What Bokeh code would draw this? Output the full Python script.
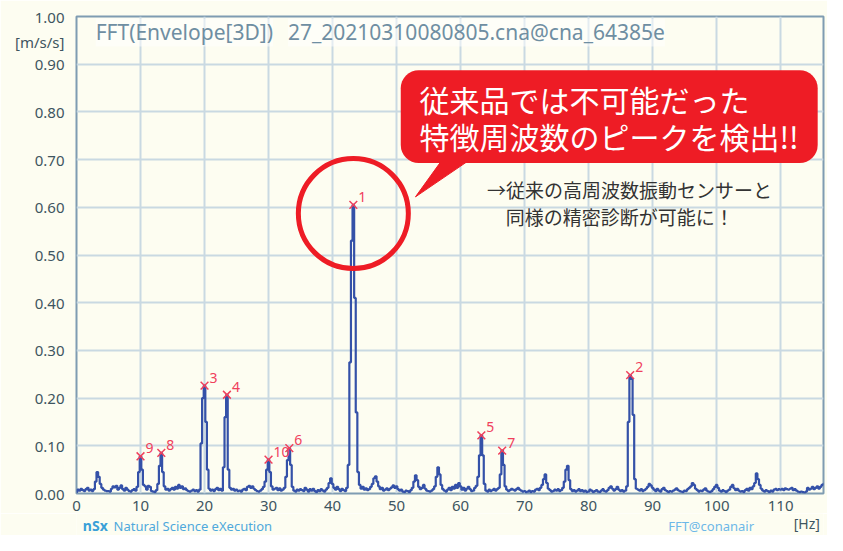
import numpy as np
from bokeh.plotting import figure
from bokeh.layouts import column
from bokeh.models import Range1d, Label, BoxAnnotation, FixedTicker
from bokeh.core.properties import value
from bokeh.embed import file_html
from bokeh.resources import INLINE

# ---------------- data ----------------
freq_step = 0.25  # Hz per bin
# spectrum amplitude in milli m/s/s, bins of 0.25 Hz starting at 0 Hz (5 Hz per row)
amp_milli = [
    3, 8, 6, 10, 7, 5, 9, 12, 6, 8, 5, 9, 25, 45, 35, 20, 12, 8, 6, 5,            # 0-5
    5, 4, 10, 15, 13, 16, 8, 12, 17, 9, 6, 12, 8, 5, 4, 7, 9, 6, 14, 45,          # 5-10
    78, 50, 18, 15, 8, 16, 14, 5, 4, 3, 7, 20, 58, 85, 45, 15, 8, 10, 6, 9,       # 10-15
    12, 8, 14, 10, 18, 12, 15, 9, 11, 7, 5, 4, 6, 8, 5, 7, 4, 8, 105, 200,        # 15-20
    226, 150, 50, 10, 6, 8, 5, 9, 12, 7, 10, 6, 55, 160, 207, 50, 12, 8, 10, 6,   # 20-25
    8, 5, 6, 4, 8, 10, 7, 14, 16, 12, 15, 10, 7, 5, 4, 6, 9, 14, 25, 50,          # 25-30
    71, 45, 15, 8, 10, 12, 7, 11, 6, 8, 12, 35, 70, 95, 60, 14, 6, 4, 8, 6,       # 30-35
    9, 7, 5, 12, 8, 4, 9, 6, 10, 5, 3, 7, 5, 9, 6, 4, 8, 12, 22, 32,              # 35-40
    20, 12, 8, 14, 9, 5, 10, 7, 5, 12, 60, 275, 530, 605, 410, 170, 45, 18, 10, 14,  # 40-45
    8, 11, 7, 9, 14, 20, 32, 36, 25, 15, 9, 12, 6, 8, 11, 7, 10, 13, 17, 12,      # 45-50
    15, 9, 6, 8, 4, 3, 6, 5, 3, 7, 12, 25, 38, 28, 14, 9, 12, 18, 10, 6,          # 50-55
    5, 4, 6, 9, 15, 35, 55, 40, 18, 9, 6, 4, 8, 12, 7, 14, 10, 18, 12, 22,        # 55-60
    15, 8, 12, 6, 10, 14, 9, 5, 6, 12, 16, 35, 80, 122, 80, 20, 6, 4, 8, 5,       # 60-65
    7, 10, 6, 9, 12, 40, 90, 60, 15, 8, 5, 7, 10, 8, 6, 9, 12, 8, 6, 4,           # 65-70
    5, 3, 4, 6, 3, 5, 4, 8, 10, 7, 12, 18, 30, 40, 22, 10, 7, 4, 5, 8,            # 70-75
    6, 9, 5, 7, 12, 25, 50, 58, 28, 9, 5, 7, 4, 6, 9, 5, 7, 4, 6, 3,              # 75-80
    4, 8, 6, 3, 5, 7, 4, 3, 6, 9, 5, 4, 7, 12, 15, 10, 6, 9, 14, 8,               # 80-85
    5, 7, 4, 6, 15, 150, 248, 240, 165, 30, 10, 8, 6, 9, 5, 7, 10, 14, 20, 17,    # 85-90
    12, 8, 5, 10, 6, 4, 9, 12, 7, 5, 3, 5, 4, 6, 8, 11, 7, 5, 4, 3,               # 90-95
    6, 5, 9, 12, 15, 22, 18, 10, 7, 4, 6, 5, 8, 11, 6, 4, 3, 5, 9, 14,            # 95-100
    18, 12, 6, 4, 7, 5, 3, 6, 8, 14, 18, 11, 7, 10, 6, 4, 5, 3, 7, 10,            # 100-105
    6, 12, 9, 15, 22, 42, 30, 18, 10, 6, 4, 7, 5, 3, 6, 4, 8, 10, 7, 9,           # 105-110
    8, 10, 7, 11, 9, 8, 10, 12, 7, 9, 6, 4, 3, 4, 3, 2, 4, 12, 8, 10,             # 110-115
    14, 9, 12, 15, 10, 14, 18, 20,                                                # 115-116.75
]
peak_x = [43.25, 86.5, 20.0, 23.5, 63.25, 33.25, 66.5, 13.25, 10.0, 30.0]
peak_y = [0.605, 0.248, 0.226, 0.207, 0.122, 0.095, 0.090, 0.085, 0.078, 0.071]
peak_labels = ["1", "2", "3", "4", "5", "6", "7", "8", "9", "10"]
x_ticks = [0, 10, 20, 30, 40, 50, 60, 70, 80, 90, 100, 110]
y_ticks = [0.0, 0.1, 0.2, 0.3, 0.4, 0.5, 0.6, 0.7, 0.8, 0.9, 1.0]
y_unit_tick = 0.947
y_unit_label = "[m/s/s]"

freq = np.arange(len(amp_milli)) * freq_step
amp = np.array(amp_milli) / 1000.0

# ---------------- layout ----------------
W = 827
H_MAIN, H_FOOT = 513, 22
ML, MR, MT, MB = 76, 4, 16, 18
XMAX, YMAX = 116.7, 1.0
FW, FH = W - ML - MR, H_MAIN - MT - MB
SX, SY = 827 / 843, 535 / 551   # reference pixels -> own pixels
def dx(rx):
    return (rx * SX - ML) * XMAX / FW
def dy(ry):
    return (MT + FH - ry * SY) * YMAX / FH

BG = "#FDFDF1"
RED = "#EE1C25"
TXT = "#3E5560"
CJK = "Noto Sans CJK JP"

p = figure(width=W, height=H_MAIN, output_backend="svg", toolbar_location=None,
           x_range=Range1d(0, XMAX), y_range=Range1d(0, YMAX),
           min_border_left=ML, min_border_right=MR, min_border_top=MT, min_border_bottom=MB,
           background_fill_color=BG, border_fill_color=BG)
p.outline_line_color = "#7F9CB2"
p.outline_line_width = 2

for ax in (p.xaxis, p.yaxis):
    ax.axis_line_color = None
    ax.major_tick_line_color = None
    ax.minor_tick_line_color = None
    ax.major_label_text_font = "Noto Sans"
    ax.major_label_text_font_size = "15px"
    ax.major_label_text_color = TXT
p.xaxis.ticker = FixedTicker(ticks=x_ticks)
p.xaxis.major_label_standoff = 1
p.yaxis.ticker = FixedTicker(ticks=y_ticks + [y_unit_tick])
overrides = {t: f"{t:.2f}" for t in y_ticks}
overrides[y_unit_tick] = y_unit_label
p.yaxis.major_label_overrides = overrides
p.yaxis.major_label_standoff = 6
p.xgrid.ticker = FixedTicker(ticks=x_ticks)
p.ygrid.ticker = FixedTicker(ticks=y_ticks)
p.grid.grid_line_color = "#C9D9E2"
p.grid.grid_line_width = 2

# title text
p.add_layout(Label(x=dx(97), y=dy(33), text="FFT(Envelope[3D])",
                   text_font="Noto Sans", text_font_size="21px", text_color="#6F8EA2",
                   text_baseline="middle", background_fill_color="white", background_fill_alpha=0.5))
p.add_layout(Label(x=dx(293), y=dy(33), text="27_20210310080805.cna@cna_64385e",
                   text_font="Noto Sans", text_font_size="21px", text_color="#6F8EA2",
                   text_baseline="middle", background_fill_color="white", background_fill_alpha=0.5))

# spectrum
p.step(freq, amp, mode="center", line_color="#3451A8", line_width=2.2)

# peak markers
p.scatter(peak_x, peak_y, marker="x", size=11, line_color="#F0405C", line_width=1.5)
p.text(peak_x, peak_y, text=peak_labels, x_offset=5, y_offset=-8,
       text_font=value("Noto Sans"), text_font_size="14px", text_color="#F0405C",
       text_align="left", text_baseline="middle")

# highlight circle around peak 1
p.scatter([peak_x[0]], [peak_y[0] - 0.018], marker="circle", size=110,
          fill_color=None, line_color=RED, line_width=5)

# callout box
p.add_layout(BoxAnnotation(left=dx(408), right=dx(833), top=dy(72), bottom=dy(168),
                           fill_color=RED, fill_alpha=1.0, line_color=None, border_radius=18))
p.patch([dx(423), dx(450), dx(478)], [dy(203), dy(165), dy(165)],
        fill_color=RED, line_color=RED, line_width=1)
p.add_layout(Label(x=dx(427), y=dy(102), text="従来品では不可能だった", text_font=CJK,
                   text_font_size="30px", text_color="white", text_baseline="middle"))
p.add_layout(Label(x=dx(427), y=dy(140), text="特徴周波数のピークを検出!!", text_font=CJK,
                   text_font_size="30px", text_color="white", text_baseline="middle"))
p.add_layout(Label(x=dx(496), y=dy(195), text="→従来の高周波数振動センサーと", text_font=CJK,
                   text_font_size="19px", text_color="#333333", text_baseline="middle"))
p.add_layout(Label(x=dx(515), y=dy(223), text="同様の精密診断が可能に！", text_font=CJK,
                   text_font_size="19px", text_color="#333333", text_baseline="middle"))

# footer strip: units and credits
f = figure(width=W, height=H_FOOT, output_backend="svg", toolbar_location=None,
           x_range=Range1d(0, W), y_range=Range1d(H_FOOT, 0),
           min_border=0, min_border_left=0, min_border_right=0, min_border_top=0, min_border_bottom=0,
           background_fill_color=BG, border_fill_color=BG)
f.axis.visible = False
f.grid.visible = False
f.outline_line_color = None
f.add_layout(Label(x=823, y=10, text="[Hz]", text_font="Noto Sans",
                   text_font_size="14px", text_color=TXT, text_baseline="middle", text_align="right"))
f.add_layout(Label(x=7, y=12, text="nSx", text_font="Noto Sans", text_font_style="bold",
                   text_font_size="14px", text_color="#3AA0D8", text_baseline="middle"))
f.add_layout(Label(x=41, y=12, text="Natural Science eXecution", text_font="Noto Sans",
                   text_font_size="13px", text_color="#4FA9DC", text_baseline="middle"))
f.add_layout(Label(x=655, y=12, text="FFT@conanair", text_font="Noto Sans",
                   text_font_size="13px", text_color="#6DB8E8", text_baseline="middle"))

layout = column(p, f, spacing=0)
open("out.html", "w").write(file_html(layout, INLINE))
